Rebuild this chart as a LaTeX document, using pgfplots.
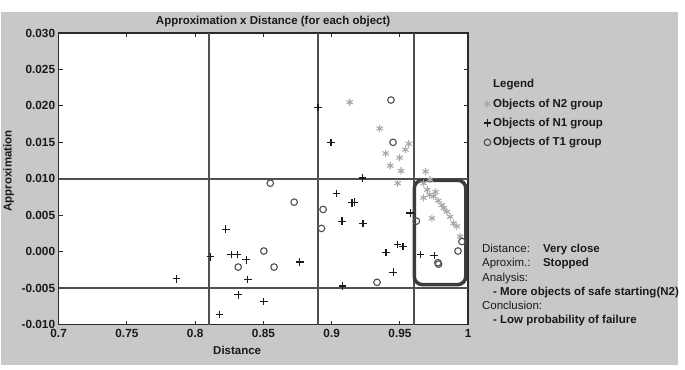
\documentclass[border=0pt]{standalone}
\usepackage{pgfplots}
\pgfplotsset{compat=1.18}
\usepackage{fontspec}
\setmainfont{Liberation Sans}
\definecolor{panel}{HTML}{C8C8C8}
\definecolor{gridc}{HTML}{505050}
\definecolor{framec}{HTML}{2A2A2A}
\definecolor{rectc}{HTML}{3C3C3C}
\definecolor{starc}{HTML}{A8A8A8}
\definecolor{circc}{HTML}{505050}
\definecolor{plusc}{HTML}{1A1A1A}
\definecolor{txt}{HTML}{1A1A1A}

\pgfplotstableread{
x y
0.9132 0.0205
0.9351 0.0169
0.9564 0.0148
0.9540 0.0140
0.9395 0.0135
0.9498 0.0129
0.9429 0.0118
0.9508 0.0111
0.9688 0.0110
0.9483 0.0094
0.9673 0.0094
0.9720 0.0099
0.9700 0.0085
0.9760 0.0082
0.9673 0.0074
0.9717 0.0078
0.9747 0.0076
0.9780 0.0070
0.9807 0.0064
0.9820 0.0060
0.9844 0.0055
0.9868 0.0048
0.9892 0.0039
0.9917 0.0035
0.9941 0.0021
0.9734 0.0046
}\ntwo

\pgfplotstableread{
x y
0.7864 -0.0037
0.8112 -0.0007
0.8178 -0.0086
0.8225 0.0031
0.8264 -0.0004
0.8308 -0.0004
0.8315 -0.0059
0.8374 -0.0011
0.8386 -0.0038
0.8503 -0.0068
0.8766 -0.0014
0.8900 0.0198
0.8995 0.0150
0.9034 0.0080
0.9076 0.0042
0.9080 -0.0047
0.9149 0.0067
0.9168 0.0068
0.9227 0.0101
0.9230 0.0039
0.9398 -0.0001
0.9451 -0.0028
0.9483 0.0010
0.9522 0.0007
0.9575 0.0053
0.9649 -0.0004
0.9751 -0.0005
}\none

\pgfplotstableread{
x y
0.8550 0.0094
0.8725 0.0068
0.8937 0.0058
0.8925 0.0032
0.8503 0.0001
0.8315 -0.0021
0.8578 -0.0021
0.9332 -0.0042
0.9434 0.0208
0.9449 0.0150
0.9620 0.0042
0.9778 -0.0015
0.9783 -0.0017
0.9954 0.0014
0.9925 0.0001
}\tone

\begin{document}
\begin{tikzpicture}
\fill[white] (0pt,0pt) rectangle (685pt,370pt);
\fill[panel] (0pt,5pt) rectangle (678pt,358pt);
\begin{axis}[
  at={(58pt,45pt)}, anchor=south west,
  width=410pt, height=292pt, scale only axis,
  xmin=0.7, xmax=1, ymin=-0.01, ymax=0.03,
  xtick={0.7,0.75,0.8,0.85,0.9,0.95,1},
  xticklabels={0.7,0.75,0.8,0.85,0.9,0.95,1},
  ytick={-0.01,-0.005,0,0.005,0.01,0.015,0.02,0.025,0.03},
  yticklabels={-0.010,-0.005,0.000,0.005,0.010,0.015,0.020,0.025,0.030},
  scaled x ticks=false, scaled y ticks=false,
  tick align=inside, tick pos=both, major tick length=4pt,
  tick style={framec, line width=1pt},
  axis line style={framec, line width=1.5pt},
  ticklabel style={font=\fontsize{11.8}{13}\selectfont\bfseries, text=txt},
  xticklabel style={yshift=-1.5pt},
  axis background/.style={fill=white},
  legend style={at={(1.0256,0.848)}, anchor=north west, draw=none, fill=none,
    font=\fontsize{11.5}{13}\selectfont\bfseries, text=txt, row sep=5.5pt, inner sep=0pt},
  legend cell align=left,
]
\draw[gridc, line width=2pt] (axis cs:0.81,-0.01) -- (axis cs:0.81,0.03);
\draw[gridc, line width=2pt] (axis cs:0.89,-0.01) -- (axis cs:0.89,0.03);
\draw[gridc, line width=2pt] (axis cs:0.96,-0.01) -- (axis cs:0.96,0.03);
\draw[gridc, line width=2pt] (axis cs:0.7,0.01) -- (axis cs:1,0.01);
\draw[gridc, line width=2pt] (axis cs:0.7,-0.005) -- (axis cs:1,-0.005);
\draw[rectc, line width=3.5pt, rounded corners=8pt] (axis cs:0.9605,0.0098) rectangle (axis cs:0.9982,-0.0045);
\addlegendimage{empty legend}
\addlegendentry{Legend}
\addplot[only marks, mark=asterisk, mark size=3.6pt, color=starc, line width=1.1pt] table[x=x,y=y] {\ntwo};
\addlegendentry{Objects of N2 group}
\addplot[only marks, mark=+, mark size=3.8pt, color=plusc, line width=1.2pt] table[x=x,y=y] {\none};
\addlegendentry{Objects of N1 group}
\addplot[only marks, mark=o, mark size=3.3pt, color=circc, line width=1.1pt] table[x=x,y=y] {\tone};
\addlegendentry{Objects of T1 group}
\end{axis}
\node[font=\fontsize{11.5}{13}\selectfont\bfseries, text=txt] at (272.7pt,348pt) {Approximation x Distance (for each object)};
\node[rotate=90, font=\fontsize{11.5}{13}\selectfont\bfseries, text=txt] at (8pt,199pt) {Approximation};
\node[font=\fontsize{11.5}{13}\selectfont\bfseries, text=txt] at (236.7pt,19.3pt) {Distance};
\begin{scope}[every node/.style={anchor=base west, inner sep=0pt, text=txt, font=\fontsize{11.5}{13}\selectfont}]
\node at (481.7pt,117pt) {Distance:};
\node[font=\fontsize{11.5}{13}\selectfont\bfseries] at (542.7pt,117pt) {Very close};
\node at (481.7pt,103pt) {Aproxim.:};
\node[font=\fontsize{11.5}{13}\selectfont\bfseries] at (542.7pt,103pt) {Stopped};
\node at (481.7pt,88pt) {Analysis:};
\node[font=\fontsize{11.5}{13}\selectfont\bfseries] at (492.7pt,74pt) {- More objects of safe starting(N2)};
\node at (481.7pt,60pt) {Conclusion:};
\node[font=\fontsize{11.5}{13}\selectfont\bfseries] at (492.7pt,46pt) {- Low probability of failure};
\end{scope}
\path[use as bounding box] (0pt,0pt) rectangle (685pt,370pt);
\end{tikzpicture}
\end{document}
